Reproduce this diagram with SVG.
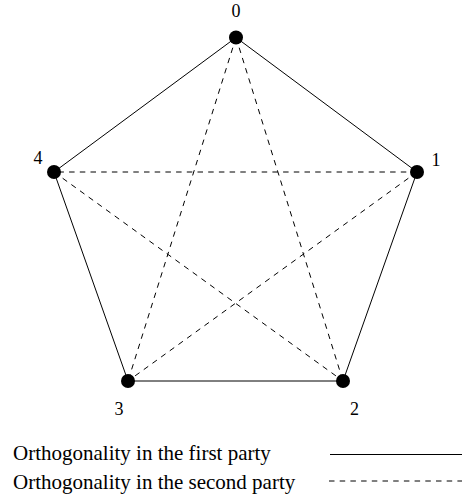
<svg xmlns="http://www.w3.org/2000/svg" width="462" height="500" viewBox="0 0 462 500">
  <style>
    .solid { stroke: #000; stroke-width: 1; fill: none; }
    .dash { stroke: #000; stroke-width: 1; fill: none; stroke-dasharray: 5.5 5.2; }
    .node { fill: #000; }
    .label { font-family: "Liberation Serif", "Times New Roman", serif; font-size: 18px; fill: #000; }
    .legend { font-family: "Liberation Serif", "Times New Roman", serif; font-size: 21px; fill: #000; }
  </style>
  <rect width="462" height="500" fill="#fff"/>

  <!-- edges: solid outer pentagon, dashed inner star -->
  <g id="connectors">
    <line class="solid" x1="236" y1="37.5" x2="417" y2="172"/>
    <line class="solid" x1="417" y1="172" x2="343" y2="381"/>
    <line class="solid" x1="343" y1="381" x2="128" y2="381"/>
    <line class="solid" x1="128" y1="381" x2="54" y2="172"/>
    <line class="solid" x1="54" y1="172" x2="236" y2="37.5"/>
    <line class="dash" x1="236" y1="37.5" x2="343" y2="381"/>
    <line class="dash" x1="236" y1="37.5" x2="128" y2="381"/>
    <line class="dash" x1="417" y1="172" x2="128" y2="381"/>
    <line class="dash" x1="417" y1="172" x2="54" y2="172"/>
    <line class="dash" x1="54" y1="172" x2="343" y2="381"/>
  </g>

  <g id="n0"><circle class="node" cx="236" cy="37.5" r="7"/><text class="label" x="236" y="17" text-anchor="middle">0</text></g>
  <g id="n1"><circle class="node" cx="417" cy="172" r="7"/><text class="label" x="436" y="166" text-anchor="middle">1</text></g>
  <g id="n2"><circle class="node" cx="343" cy="381" r="7"/><text class="label" x="354.5" y="415" text-anchor="middle">2</text></g>
  <g id="n3"><circle class="node" cx="128" cy="381" r="7"/><text class="label" x="119" y="415" text-anchor="middle">3</text></g>
  <g id="n4"><circle class="node" cx="54" cy="172" r="7"/><text class="label" x="38" y="164" text-anchor="middle">4</text></g>

  <g id="legend">
    <text class="legend" x="13" y="460">Orthogonality in the first party</text>
    <line class="solid" x1="330" y1="454.5" x2="462" y2="454.5"/>
    <text class="legend" x="13" y="488.5">Orthogonality in the second party</text>
    <line class="dash" x1="329" y1="481" x2="462" y2="481"/>
  </g>
</svg>
